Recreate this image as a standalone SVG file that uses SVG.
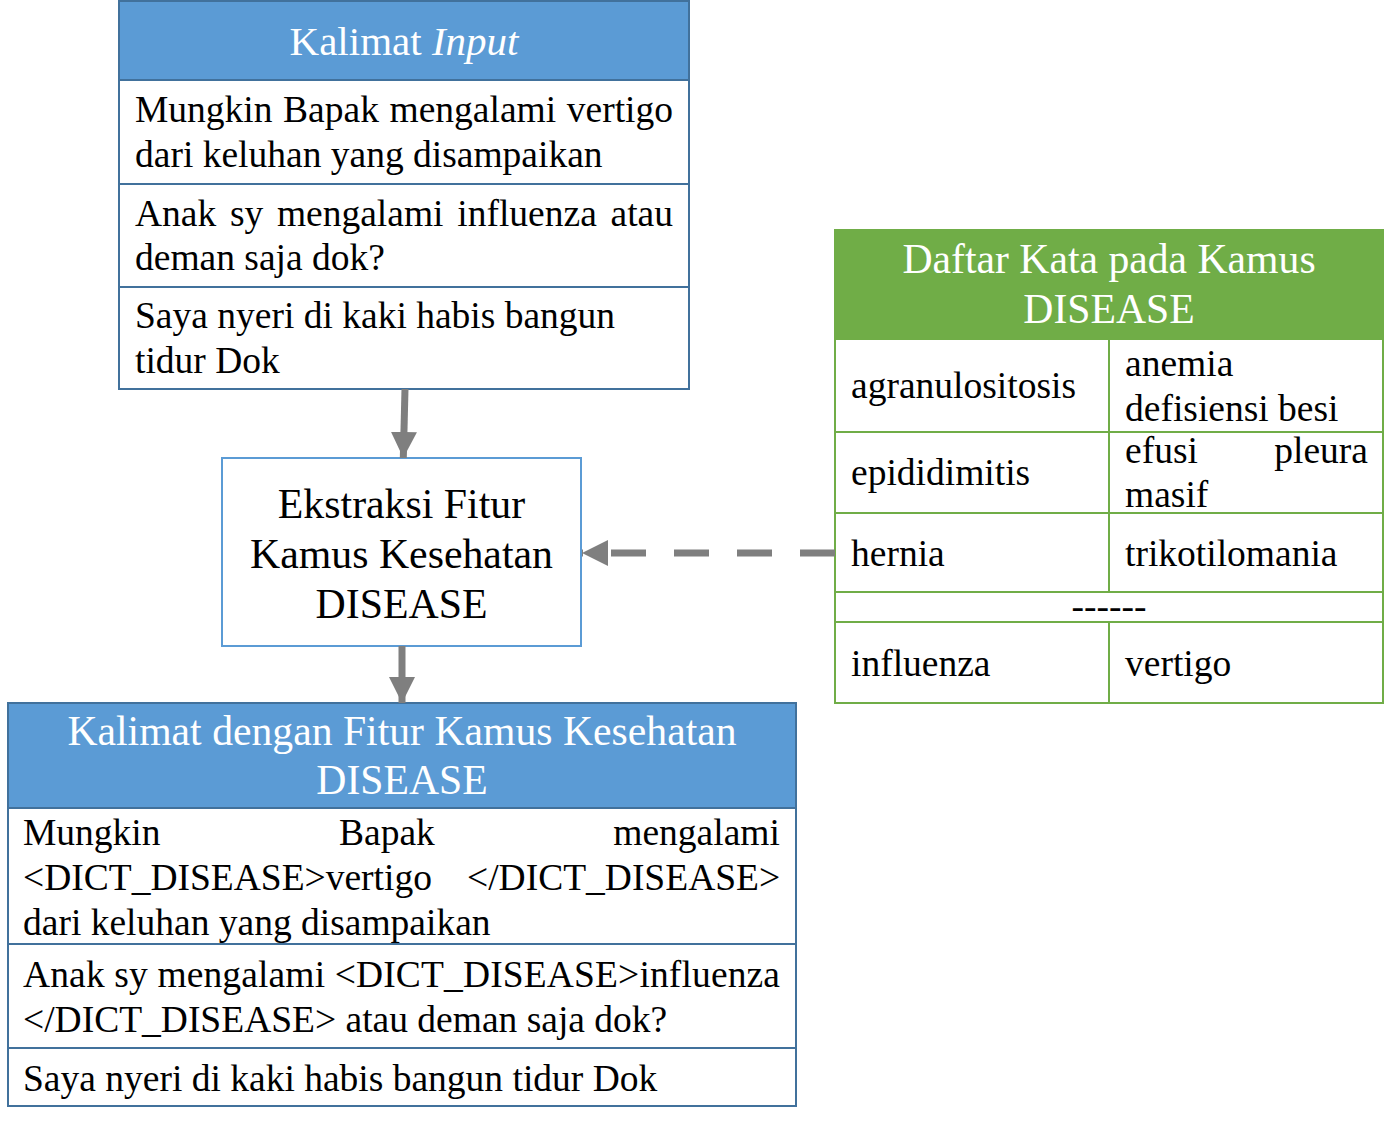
<svg xmlns="http://www.w3.org/2000/svg" width="1391" height="1123" viewBox="0 0 1391 1123">
<style>
  .t { font-family: "Liberation Serif", "Times New Roman", serif; fill: #000; }
  .b { font-size: 37.5px; }
  .h { font-size: 41.7px; fill: #fff; text-anchor: middle; }
  .m { font-size: 41.8px; text-anchor: middle; }
  .bl { fill: #5B9BD5; }
  .ln1 { stroke: #41719C; stroke-width: 2; fill: none; }
  .ln2 { stroke: #70AD47; stroke-width: 2; fill: none; }
  .conn { stroke: #7F7F7F; stroke-width: 7; fill: none; }
</style>
<defs>
  <marker id="ah" markerUnits="userSpaceOnUse" markerWidth="28" markerHeight="28" refX="26" refY="13" orient="auto">
    <path d="M0,0 L26,13 L0,26 Z" fill="#7F7F7F"/>
  </marker>
</defs>

<g id="kalimat-input">
  <rect x="119" y="1" width="570" height="79" class="bl"/>
  <rect x="119" y="1" width="570" height="388" class="ln1"/>
  <line x1="119" y1="80" x2="689" y2="80" class="ln1"/>
  <line x1="119" y1="184" x2="689" y2="184" class="ln1"/>
  <line x1="119" y1="287" x2="689" y2="287" class="ln1"/>
  <text class="t h" x="404" y="55" style="font-size:41px">Kalimat <tspan font-style="italic">Input</tspan></text>
  <text class="t b" y="122"><tspan x="135">Mungkin</tspan><tspan x="283.1">Bapak</tspan><tspan x="389.5">mengalami</tspan><tspan x="566.8">vertigo</tspan></text>
  <text class="t b" x="135" y="167">dari keluhan yang disampaikan</text>
  <text class="t b" y="226"><tspan x="135">Anak</tspan><tspan x="229.9">sy</tspan><tspan x="276.9">mengalami</tspan><tspan x="457.3">influenza</tspan><tspan x="610.5">atau</tspan></text>
  <text class="t b" x="135" y="270">deman saja dok?</text>
  <text class="t b" x="135" y="328">Saya nyeri di kaki habis bangun</text>
  <text class="t b" x="135" y="373">tidur Dok</text>
</g>

<g id="ekstraksi">
  <rect x="222" y="458" width="359" height="188" fill="#fff" stroke="#5B9BD5" stroke-width="2"/>
  <text class="t m" x="401.5" y="518">Ekstraksi Fitur</text>
  <text class="t m" x="401.5" y="568">Kamus Kesehatan</text>
  <text class="t m" x="401.5" y="618">DISEASE</text>
</g>

<g id="kamus">
  <rect x="835" y="230" width="548" height="109" fill="#70AD47"/>
  <rect x="835" y="230" width="548" height="473" class="ln2"/>
  <line x1="835" y1="339" x2="1383" y2="339" class="ln2"/>
  <line x1="835" y1="432" x2="1383" y2="432" class="ln2"/>
  <line x1="835" y1="513" x2="1383" y2="513" class="ln2"/>
  <line x1="835" y1="592" x2="1383" y2="592" class="ln2"/>
  <line x1="835" y1="622" x2="1383" y2="622" class="ln2"/>
  <line x1="1109" y1="339" x2="1109" y2="592" class="ln2"/>
  <line x1="1109" y1="622" x2="1109" y2="703" class="ln2"/>
  <text class="t h" x="1109" y="273">Daftar Kata pada Kamus</text>
  <text class="t h" x="1109" y="323">DISEASE</text>
  <text class="t b" x="851" y="398">agranulositosis</text>
  <text class="t b" x="1125" y="376">anemia</text>
  <text class="t b" x="1125" y="421">defisiensi besi</text>
  <text class="t b" x="851" y="485">epididimitis</text>
  <text class="t b" y="463"><tspan x="1125">efusi</tspan><tspan x="1274.3">pleura</tspan></text>
  <text class="t b" x="1125" y="507">masif</text>
  <text class="t b" x="851" y="566">hernia</text>
  <text class="t b" x="1125" y="566">trikotilomania</text>
  <text class="t b" x="1109" y="619" text-anchor="middle">------</text>
  <text class="t b" x="851" y="676">influenza</text>
  <text class="t b" x="1125" y="676">vertigo</text>
</g>

<g id="kalimat-fitur">
  <rect x="8" y="703" width="788" height="105" class="bl"/>
  <rect x="8" y="703" width="788" height="403" class="ln1"/>
  <line x1="8" y1="808" x2="796" y2="808" class="ln1"/>
  <line x1="8" y1="944" x2="796" y2="944" class="ln1"/>
  <line x1="8" y1="1048" x2="796" y2="1048" class="ln1"/>
  <text class="t h" x="402" y="745">Kalimat dengan Fitur Kamus Kesehatan</text>
  <text class="t h" x="402" y="794">DISEASE</text>
  <text class="t b" y="845"><tspan x="23">Mungkin</tspan><tspan x="339">Bapak</tspan><tspan x="613.3">mengalami</tspan></text>
  <text class="t b" y="890"><tspan x="23">&lt;DICT_DISEASE&gt;vertigo</tspan><tspan x="467">&lt;/DICT_DISEASE&gt;</tspan></text>
  <text class="t b" x="23" y="935">dari keluhan yang disampaikan</text>
  <text class="t b" x="23" y="987" textLength="757" lengthAdjust="spacing">Anak sy mengalami &lt;DICT_DISEASE&gt;influenza</text>
  <text class="t b" x="23" y="1032">&lt;/DICT_DISEASE&gt; atau deman saja dok?</text>
  <text class="t b" x="23" y="1091">Saya nyeri di kaki habis bangun tidur Dok</text>
</g>

<g id="connectors">
  <path d="M405,389 L403.3,458" class="conn" marker-end="url(#ah)"/>
  <path d="M402,646 L402,703" class="conn" marker-end="url(#ah)"/>
  <path d="M835,553 L582,553" class="conn" stroke-width="9" stroke-dasharray="35 28" marker-end="url(#ah)"/>
</g>
</svg>
